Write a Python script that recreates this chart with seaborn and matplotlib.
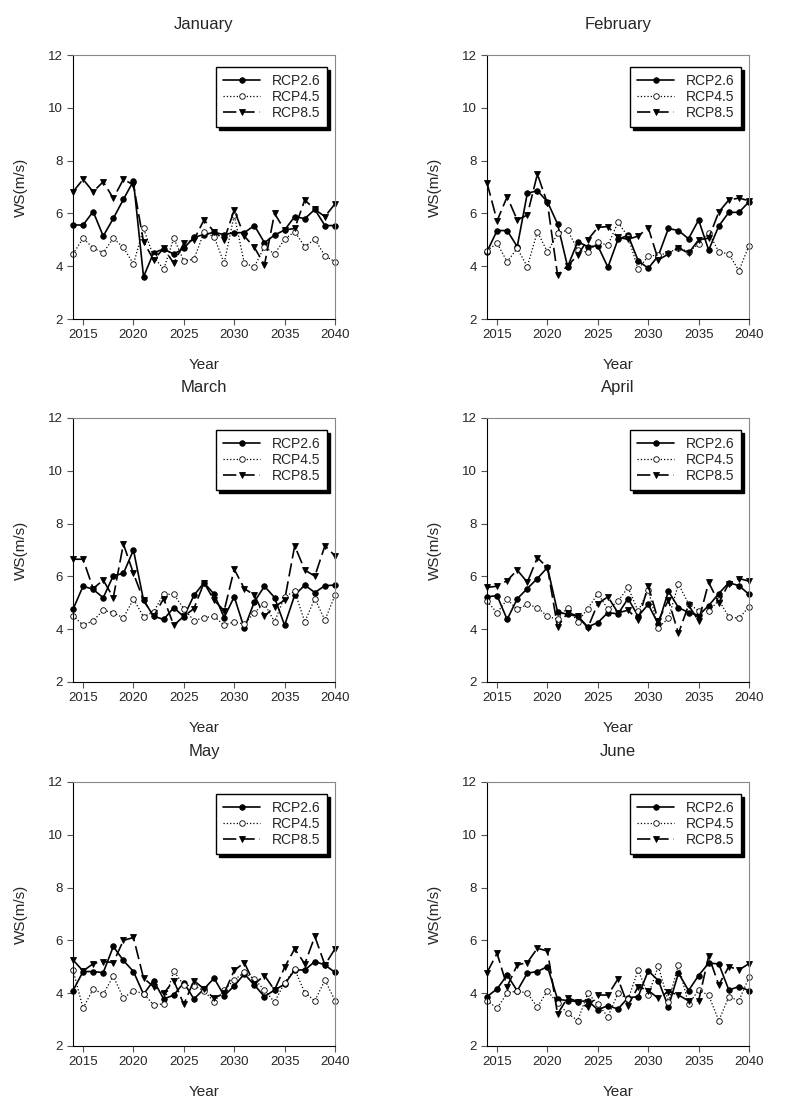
import numpy as np
import matplotlib
matplotlib.use("Agg")
import matplotlib.pyplot as plt
import seaborn as sns

# years shown on every panel
years = list(range(2014, 2041))
months = ["January", "February", "March", "April", "May", "June"]

# wind speed (m/s)
jan_26 = [5.56, 5.56, 6.07, 5.14, 5.81, 6.53, 7.23, 3.60, 4.51, 4.65, 4.46, 4.68, 5.09, 5.20, 5.28, 5.20, 5.27, 5.27, 5.54, 4.89, 5.18, 5.37, 5.88, 5.80, 6.15, 5.54, 5.54]
jan_45 = [4.46, 5.06, 4.69, 4.51, 5.06, 4.71, 4.08, 5.43, 4.36, 3.88, 5.06, 4.20, 4.26, 5.28, 5.12, 4.11, 5.94, 4.11, 3.98, 4.74, 4.46, 5.02, 5.31, 4.74, 5.02, 4.39, 4.17]
jan_85 = [6.82, 7.29, 6.82, 7.20, 6.57, 7.29, 7.08, 4.93, 4.24, 4.68, 4.11, 4.87, 5.00, 5.75, 5.31, 5.00, 6.13, 5.14, 4.71, 4.05, 6.00, 5.37, 5.43, 6.51, 6.15, 5.88, 6.36]

feb_26 = [4.55, 5.35, 5.35, 4.74, 6.76, 6.86, 6.44, 5.60, 3.98, 4.93, 4.74, 4.77, 3.96, 5.02, 5.17, 4.21, 3.92, 4.39, 5.43, 5.35, 5.04, 5.75, 4.61, 5.52, 6.04, 6.04, 6.44]
feb_45 = [4.59, 4.87, 4.17, 4.68, 3.98, 5.31, 4.53, 5.24, 5.37, 4.61, 4.53, 4.90, 4.80, 5.66, 5.12, 3.88, 4.39, 4.42, 4.50, 4.70, 4.55, 4.84, 5.27, 4.55, 4.46, 3.83, 4.78]
feb_85 = [7.16, 5.72, 6.63, 5.75, 5.94, 7.49, 6.38, 3.67, 4.01, 4.42, 5.00, 5.47, 5.50, 5.09, 5.02, 5.14, 5.46, 4.24, 4.46, 4.70, 4.49, 5.00, 5.06, 6.05, 6.51, 6.58, 6.48]

mar_26 = [4.75, 5.63, 5.51, 5.19, 6.03, 6.11, 7.00, 5.10, 4.49, 4.37, 4.82, 4.47, 5.28, 5.76, 5.33, 4.44, 5.23, 4.03, 5.04, 5.63, 5.20, 4.15, 5.29, 5.67, 5.39, 5.65, 5.67]
mar_45 = [4.51, 4.15, 4.32, 4.72, 4.62, 4.43, 5.14, 4.47, 4.66, 5.33, 5.32, 4.78, 4.32, 4.44, 4.49, 4.15, 4.28, 4.19, 4.63, 4.97, 4.28, 5.23, 5.44, 4.28, 5.16, 4.34, 5.29]
mar_85 = [6.65, 6.65, 5.54, 5.86, 5.20, 7.23, 6.11, 5.10, 4.49, 5.16, 4.15, 4.49, 4.78, 5.76, 5.10, 4.70, 6.27, 5.54, 5.29, 4.49, 4.85, 5.10, 7.16, 6.24, 6.01, 7.16, 6.78]

apr_26 = [5.23, 5.27, 4.37, 5.15, 5.54, 5.92, 6.34, 4.66, 4.56, 4.49, 4.09, 4.25, 4.63, 4.58, 5.16, 4.49, 4.94, 4.19, 5.44, 4.82, 4.63, 4.53, 4.89, 5.35, 5.76, 5.65, 5.32]
apr_45 = [5.06, 4.62, 5.13, 4.75, 4.94, 4.82, 4.49, 4.37, 4.82, 4.28, 4.78, 5.35, 4.76, 5.06, 5.58, 4.68, 5.48, 4.06, 4.41, 5.71, 4.97, 4.70, 4.68, 5.10, 4.47, 4.41, 4.85]
apr_85 = [5.58, 5.63, 5.84, 6.24, 5.78, 6.71, 6.33, 4.09, 4.62, 4.51, 4.05, 4.97, 5.23, 4.62, 4.72, 4.34, 5.65, 4.32, 5.10, 3.84, 4.91, 4.32, 5.77, 5.01, 5.73, 5.92, 5.82]

may_26 = [4.10, 4.82, 4.82, 4.78, 5.77, 5.24, 4.82, 3.96, 4.48, 3.78, 3.93, 4.40, 3.78, 4.16, 4.57, 3.90, 4.28, 4.73, 4.31, 3.87, 4.12, 4.34, 4.88, 4.88, 5.20, 5.07, 4.79]
may_45 = [4.88, 3.43, 4.16, 3.96, 4.65, 3.81, 4.10, 3.98, 3.56, 3.59, 4.84, 4.30, 4.29, 4.09, 3.68, 4.12, 4.50, 4.79, 4.53, 4.12, 3.66, 4.40, 4.91, 4.02, 3.71, 4.50, 3.72]
may_85 = [5.26, 4.84, 5.12, 5.20, 5.16, 6.00, 6.11, 4.57, 4.25, 4.00, 4.47, 3.58, 4.48, 4.16, 3.81, 4.00, 4.86, 5.16, 4.35, 4.67, 4.12, 4.98, 5.68, 5.11, 6.15, 5.07, 5.68]

jun_26 = [3.87, 4.16, 4.69, 4.09, 4.76, 4.82, 5.01, 3.77, 3.72, 3.68, 3.72, 3.37, 3.53, 3.40, 3.83, 3.87, 4.85, 4.48, 3.49, 4.76, 4.10, 4.67, 5.14, 5.11, 4.12, 4.25, 4.10]
jun_45 = [3.72, 3.43, 4.00, 4.09, 4.00, 3.47, 4.09, 3.62, 3.24, 2.96, 4.00, 3.58, 3.11, 4.00, 3.77, 4.88, 3.92, 5.03, 3.68, 5.07, 3.58, 4.12, 3.92, 2.96, 3.86, 3.72, 4.60]
jun_85 = [4.78, 5.51, 4.25, 5.07, 5.16, 5.70, 5.60, 3.21, 3.83, 3.68, 3.47, 3.93, 3.93, 4.54, 3.53, 4.25, 4.10, 3.81, 4.06, 3.93, 3.71, 3.71, 5.41, 4.31, 5.01, 4.88, 5.12]

rcp26 = [jan_26, feb_26, mar_26, apr_26, may_26, jun_26]
rcp45 = [jan_45, feb_45, mar_45, apr_45, may_45, jun_45]
rcp85 = [jan_85, feb_85, mar_85, apr_85, may_85, jun_85]

sns.set_style("ticks")
plt.rcParams["font.family"] = ["Liberation Sans", "DejaVu Sans"]

fig = plt.figure(figsize=(7.88, 11.13), dpi=100)

W, H = 788, 1113
lefts = [73, 487]
tops = [55, 418, 782]
aw, ah = 262, 264

for i, month in enumerate(months):
    r, c = divmod(i, 2)
    ax = fig.add_axes([lefts[c] / W, 1 - (tops[r] + ah) / H, aw / W, ah / H])

    sns.lineplot(x=years, y=rcp26[i], ax=ax, color="black", lw=1.2,
                 marker="o", markersize=4, markerfacecolor="black",
                 markeredgecolor="black", markeredgewidth=0.6,
                 clip_on=False, label="RCP2.6")
    sns.lineplot(x=years, y=rcp45[i], ax=ax, color="black", lw=0.9,
                 linestyle=":", marker="o", markersize=4,
                 markerfacecolor="white", markeredgecolor="black",
                 markeredgewidth=0.6, clip_on=False, label="RCP4.5")
    sns.lineplot(x=years, y=rcp85[i], ax=ax, color="black", lw=1.2,
                 dashes=(8, 3), marker="v", markersize=4.5,
                 markerfacecolor="black", markeredgecolor="black",
                 markeredgewidth=0.6, clip_on=False, label="RCP8.5")

    ax.set_xlim(2014, 2040)
    ax.set_ylim(2, 12)
    ax.set_xticks([2015, 2020, 2025, 2030, 2035, 2040])
    ax.set_yticks([2, 4, 6, 8, 10, 12])
    ax.tick_params(direction="out", length=4, width=0.8, labelsize=9.5,
                   color="#555555")
    for s in ["top", "right"]:
        ax.spines[s].set_color("#888888")
        ax.spines[s].set_linewidth(0.8)
    for s in ["left", "bottom"]:
        ax.spines[s].set_color("black")
        ax.spines[s].set_linewidth(0.8)

    ax.set_title(month, fontsize=12, pad=19)
    ax.set_xlabel("Year", fontsize=11, labelpad=12)
    ax.set_ylabel("WS(m/s)", fontsize=11, labelpad=14)

    leg = ax.legend(loc="upper right", bbox_to_anchor=(0.97, 0.955),
                    fontsize=10, frameon=True, fancybox=False,
                    handlelength=2.7, handletextpad=0.8, borderpad=0.5,
                    labelspacing=0.15, borderaxespad=0,
                    shadow={"color": "black", "alpha": 1})
    leg.get_frame().set_edgecolor("black")
    leg.get_frame().set_linewidth(1.0)
    leg.get_frame().set_alpha(1)

fig.savefig("out.png", dpi=100)
